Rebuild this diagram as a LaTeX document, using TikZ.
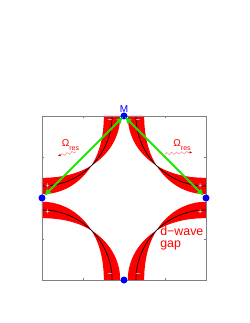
\documentclass[tikz,border=0pt]{standalone}
\usepackage{fontspec}
\setmainfont{Liberation Sans}
\usetikzlibrary{arrows.meta,decorations.pathmorphing}
\definecolor{bandred}{RGB}{255,0,0}
\definecolor{kgreen}{RGB}{30,230,0}
\definecolor{dotblue}{RGB}{0,0,255}
\definecolor{wavered}{RGB}{255,130,130}
\definecolor{axgray}{RGB}{128,128,128}
\newcommand{\rfs}{0.854}  % Fermi arc radius
\newcommand{\wgap}{0.10}  % max half width of the gap band
\tikzset{
  fsdot/.style={circle,fill=dotblue,inner sep=0pt,minimum size=7pt},
  gapsign/.style={text=white,font=\fontsize{8}{8}\selectfont,inner sep=0pt},
  qvec/.style={draw=kgreen,line width=2pt,
    {Latex[length=7pt,width=6.5pt]}-{Latex[length=7pt,width=6.5pt]}},
  reswave/.style={wavered,line width=0.5pt,decorate,
    decoration={snake,amplitude=1.1pt,segment length=5pt,post length=2pt},
    -{Latex[length=2.5pt,width=2.5pt,color=red!75!black]}},
  reslabel/.style={text=bandred,anchor=base west,inner sep=0pt,font=\fontsize{10}{10}\selectfont}
}
\begin{document}
\begin{tikzpicture}[x=82pt,y=82pt]
    \useasboundingbox (-124pt,-125pt) rectangle (125pt,198pt);
    % --- d-wave gap bands round the four Fermi arcs
    \foreach \sx/\sy in {-1/1,1/1,-1/-1,1/-1}
      {\fill[bandred]
         plot[domain=0:90,samples=91] ({\sx*(1-(\rfs+\wgap*abs(cos(2*\x)))*cos(\x))},{\sy*(1-(\rfs+\wgap*abs(cos(2*\x)))*sin(\x))})
         -- plot[domain=90:0,samples=91] ({\sx*(1-(\rfs-\wgap*abs(cos(2*\x)))*cos(\x))},{\sy*(1-(\rfs-\wgap*abs(cos(2*\x)))*sin(\x))})
         -- cycle;
       \draw[black,line width=0.7pt] plot[domain=0:90,samples=91] ({\sx*(1-\rfs*cos(\x))},{\sy*(1-\rfs*sin(\x))});}
    % --- frame with ticks
    \draw[axgray,line width=0.5pt] (-1,-1) rectangle (1,1);
    \foreach \t in {-0.5,0,0.5}
      {\draw[axgray,line width=0.5pt] (\t,-1) -- ++(0,0.03) (\t,1) -- ++(0,-0.03);
       \draw[axgray,line width=0.5pt] (-1,\t) -- ++(0.03,0) (1,\t) -- ++(-0.03,0);}
    % --- signs of the gap
    \foreach \sx in {-1,1}
      {\node[gapsign] (mt\sx) at ({0.17*\sx},0.94) {−};
       \node[gapsign] (mb\sx) at ({0.17*\sx},-0.94) {−};
       \node[gapsign] (pt\sx) at ({0.93*\sx},0.15) {+};
       \node[gapsign] (pb\sx) at ({0.93*\sx},-0.17) {+};}
    % --- special points and scattering vectors
    \node[fsdot] (Mpt) at (0,1) {};
    \node[fsdot] (Lpt) at (-1,0) {};
    \node[fsdot] (Rpt) at (1,0) {};
    \node[fsdot] (Bpt) at (0,-1) {};
    \node[text=dotblue,inner sep=0pt,font=\fontsize{10}{10}\selectfont] (Mlab) at (0,1.085) {M};
    \draw[qvec,shorten <=1pt,shorten >=3pt] (Mpt.center) -- (Lpt.center);
    \draw[qvec,shorten <=1pt,shorten >=3pt] (Mpt.center) -- (Rpt.center);
    % --- resonance labels
    \node[reslabel] (resl) at (-0.760,0.626) {Ω\raisebox{-4pt}{\fontsize{7}{7}\selectfont res}};
    \node[reslabel] (resr) at (0.601,0.630) {Ω\raisebox{-4pt}{\fontsize{7}{7}\selectfont res}};
    \coordinate (wl1) at (-0.585,0.565); \coordinate (wl2) at (-0.805,0.516);
    \coordinate (wr1) at (0.50,0.54);    \coordinate (wr2) at (0.83,0.557);
    \draw[reswave] (wl1) -- (wl2);
    \draw[reswave] (wr1) -- (wr2);
    \node[text=bandred,align=left,anchor=base west,inner sep=0pt,
          font=\fontsize{12.4}{12}\selectfont] (gaplab) at (0.44,-0.60) {d−wave\\gap};
  \end{tikzpicture}
\end{document}
